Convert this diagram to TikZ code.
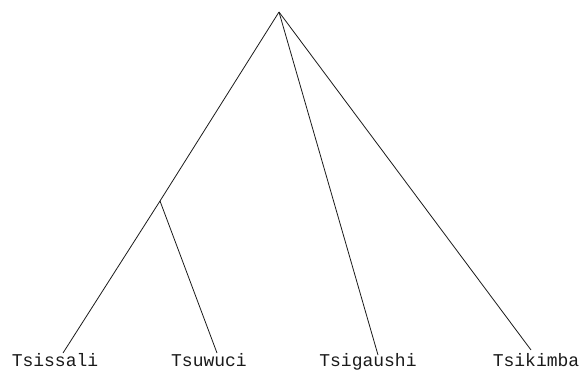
\documentclass[tikz,border=0pt]{standalone}
\usepackage{fontspec}
\setmonofont{Liberation Mono}
\definecolor{trInk}{HTML}{1A1A1A}
\usetikzlibrary{positioning}

\begin{document}
\begin{tikzpicture}[x=1pt,y=-1pt,
                    branch/.style={draw=trInk,line width=0.8pt},
                    leaf/.style={font=\ttfamily\fontsize{18}{18}\selectfont,
                                 text=trInk,inner sep=0pt,anchor=base}]
  \useasboundingbox (0,0) rectangle (583,370);
  \coordinate (root) at (279,12);
  \coordinate (inner) at (160,201);
  \coordinate (e1) at (63,353);
  \coordinate (e2) at (217,353);
  \coordinate (e3) at (378,355);
  \coordinate (e4) at (531,350);
  \node[leaf] (tsissali) at (55,366) {Tsissali};
  \node[leaf] (tsuwuci) at (209,366) {Tsuwuci};
  \node[leaf] (tsigaushi) at (368,366) {Tsigaushi};
  \node[leaf] (tsikimba) at (536,366) {Tsikimba};
  \draw[branch] (root) -- (inner);
  \draw[branch] (inner) -- (e1);
  \draw[branch] (inner) -- (e2);
  \draw[branch] (root) -- (e3);
  \draw[branch] (root) -- (e4);
\end{tikzpicture}
\end{document}
